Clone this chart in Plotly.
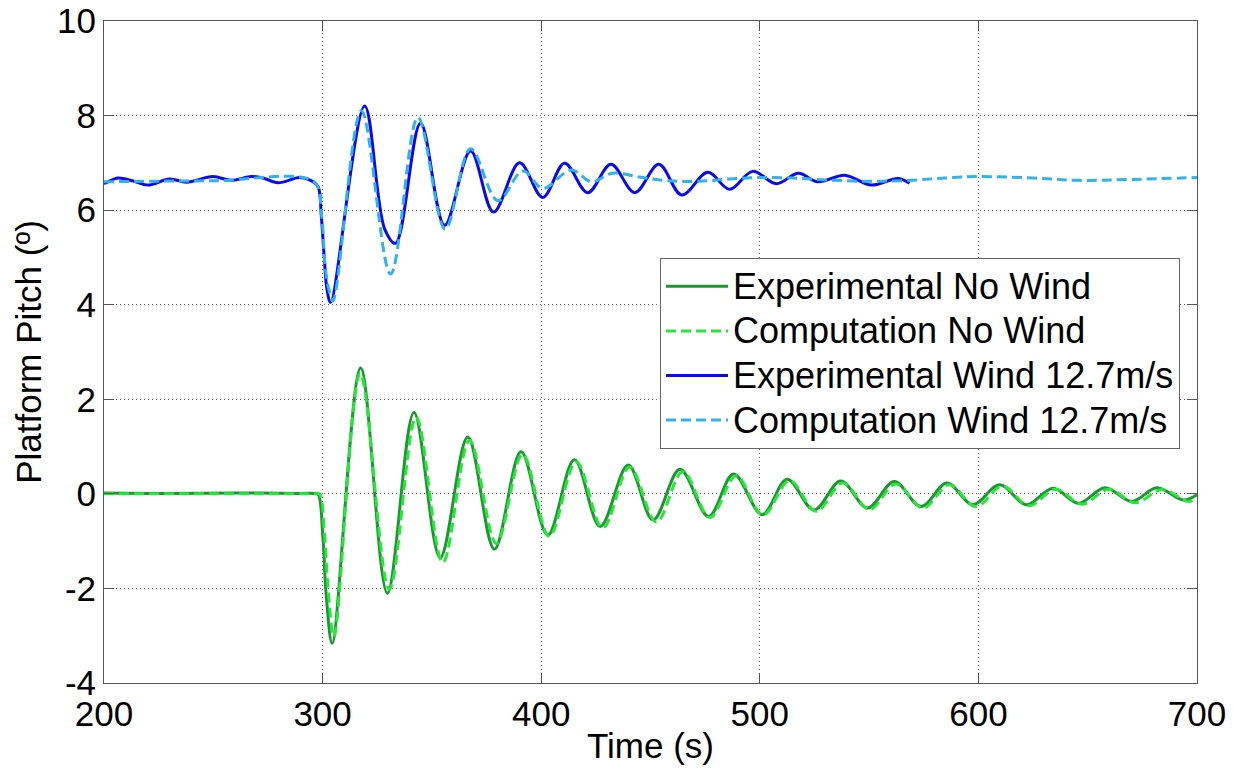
import plotly.graph_objects as go

# ---- data ----
t_exp_nw = [200, 230, 260, 290, 296, 297.9, 300.1, 301.7, 304.4, 317.4, 329.6, 341.8, 353.8, 366.4,
            378.6, 390.8, 403, 415.2, 427, 439.8, 451.2, 463.5, 476.6, 488, 501.1, 512.5, 524.8,
            537, 549.3, 561.5, 573.8, 585.6, 597.5, 609.7, 622, 634.2, 645.7, 657.9, 670.2,
            681.6, 693.8, 700]
y_exp_nw = [0.02, 0.01, 0.02, 0.01, 0.01, 0.0, -0.9, -2.17, -3.16, 2.66, -2.10, 1.72, -1.35, 1.20,
            -1.17, 0.89, -0.87, 0.72, -0.69, 0.61, -0.55, 0.52, -0.48, 0.42, -0.44, 0.31, -0.34,
            0.27, -0.30, 0.26, -0.27, 0.23, -0.23, 0.19, -0.23, 0.12, -0.20, 0.13, -0.16,
            0.13, -0.13, -0.02]

t_comp_nw = [200, 250, 296, 298.5, 300.8, 302.5, 305.2, 317.2, 330.5, 342.8, 355, 367.2, 379.5,
             391.5, 403.7, 416, 428.2, 440.5, 452.7, 464.8, 477.2, 489.2, 501.5, 513.6, 525.8,
             538, 550.2, 562.3, 574.6, 586.7, 598.8, 611, 623.2, 635.3, 647.5, 659.6, 671.8,
             684, 696, 700]
y_comp_nw = [0, 0, 0, 0, -0.8, -2.0, -3.02, 2.55, -2.02, 1.62, -1.45, 1.13, -1.05,
             0.84, -0.9, 0.68, -0.72, 0.57, -0.6, 0.47, -0.5, 0.38, -0.45, 0.28, -0.37,
             0.23, -0.33, 0.21, -0.3, 0.19, -0.27, 0.16, -0.25, 0.1, -0.22, 0.1, -0.19,
             0.09, -0.16, -0.09]

t_exp_w = [200, 201, 206.4, 213, 220.1, 230, 237.7, 249.8, 258.2, 267.4, 272.7, 279.6, 289.5, 295,
           297.9, 299.4, 300.9, 302.0, 303.7, 319.2, 328.4, 333.4, 344.8, 355.8, 367.7, 378.2,
           390.1, 400.7, 410.7, 421.3, 431.9, 442.8, 453.8, 464.3, 476.2, 486.2, 496.7, 507.6,
           517.7, 526.5, 538.8, 551, 563.3, 568.5]
y_exp_w = [6.57, 6.58, 6.68, 6.62, 6.53, 6.66, 6.59, 6.71, 6.63, 6.71, 6.68, 6.58, 6.69, 6.62,
           6.5, 5.88, 4.9, 4.33, 4.05, 8.2, 5.6, 5.3, 7.84, 5.68, 7.25, 5.96,
           7.0, 6.27, 6.99, 6.37, 6.97, 6.37, 6.97, 6.32, 6.8, 6.44, 6.82, 6.56,
           6.78, 6.6, 6.74, 6.53, 6.67, 6.57]

t_comp_w = [200, 250, 296, 299.5, 301, 302.5, 304.7, 317.7, 331.1, 343.6, 356.1, 367.7, 380.2,
            391.6, 400.8, 413.7, 423, 432.5, 445, 458, 472.2, 486, 500.3, 515, 530, 549.3,
            568.5, 585, 600, 625, 645.7, 670, 700]
y_comp_w = [6.6, 6.62, 6.6, 5.9, 4.9, 4.4, 4.08, 8.1, 4.65, 7.96, 5.6, 7.3, 6.2,
            6.83, 6.46, 6.85, 6.6, 6.78, 6.7, 6.62, 6.61, 6.66, 6.69, 6.68, 6.64, 6.61,
            6.63, 6.68, 6.71, 6.68, 6.63, 6.65, 6.69]

x_ticks = [200, 300, 400, 500, 600, 700]
x_ticktext = ["200", "300", "400", "500", "600", "700"]
y_ticks = [-4, -2, 0, 2, 4, 6, 8, 10]
y_ticktext = ["-4", "-2", "0", "2", "4", "6", "8", "10"]

names = ["Experimental No Wind", "Computation No Wind",
         "Experimental Wind 12.7m/s", "Computation Wind 12.7m/s"]
colors = ["rgb(30,150,50)", "rgb(40,230,60)", "rgb(10,10,240)", "rgb(50,178,230)"]

FONT = "Arial, Liberation Sans, sans-serif"

fig = go.Figure()
series = [(t_exp_nw, y_exp_nw, "solid"), (t_comp_nw, y_comp_nw, "10px,5px"),
          (t_exp_w, y_exp_w, "solid"), (t_comp_w, y_comp_w, "10px,5px")]
for (tx, ty, dash), nm, col in zip(series, names, colors):
    fig.add_trace(go.Scatter(
        x=tx, y=ty, mode="lines",
        name='<span style="font-size:36px">' + nm + '</span>',
        line=dict(color=col, width=3, dash=dash, shape="spline", smoothing=1.0),
    ))

axis_common = dict(
    showline=True, linecolor="#555", linewidth=1, mirror="ticks",
    ticks="inside", ticklen=10, tickcolor="#555",
    showgrid=True, gridcolor="#666", gridwidth=1, griddash="1px,3px",
    zeroline=False, automargin=False,
    tickfont=dict(family=FONT, size=35, color="black"),
)

fig.update_xaxes(range=[200, 700], tickvals=x_ticks, ticktext=x_ticktext,
                 title=dict(text="Time (s)", font=dict(family=FONT, size=35, color="black"), standoff=1),
                 **axis_common)
fig.update_yaxes(range=[-4, 10], tickvals=y_ticks, ticktext=y_ticktext,
                 title=dict(text="Platform Pitch (º)", font=dict(family=FONT, size=35, color="black"), standoff=4),
                 **axis_common)

fig.update_layout(
    width=1233, height=769,
    margin=dict(l=104, r=36, t=21, b=86),
    plot_bgcolor="white", paper_bgcolor="white",
    font=dict(family=FONT, size=35, color="black"),
    legend=dict(x=0.5087, y=0.642, xanchor="left", yanchor="top",
                bgcolor="white", bordercolor="#666", borderwidth=1,
                font=dict(family=FONT, size=32, color="black"),
                itemwidth=62, tracegroupgap=0),
    showlegend=True,
)

fig.write_html("out.html")
